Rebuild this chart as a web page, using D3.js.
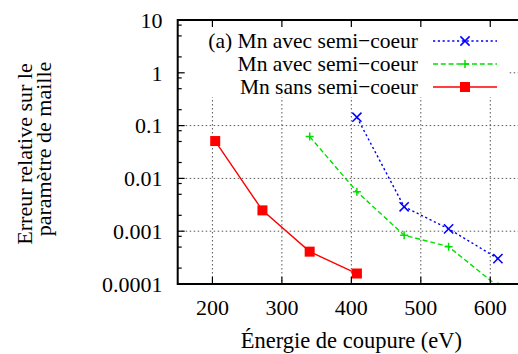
<!DOCTYPE html>
<html><head><meta charset="utf-8">
<script src="https://cdn.jsdelivr.net/npm/d3@7"></script>
<style>body{margin:0;background:#fff}svg{display:block}</style>
</head><body><svg id="c" width="518" height="354" font-family="'Liberation Serif', 'DejaVu Serif', serif"></svg>
<script>
const xTicks = [200, 300, 400, 500, 600];
const yTicks = [0.0001, 0.001, 0.01, 0.1, 1, 10];
const yTickLabels = ["0.0001", "0.001", "0.01", "0.1", "1", "10"];
const seriesNames = ["(a) Mn avec semi\u2212coeur", "Mn avec semi\u2212coeur", "Mn sans semi\u2212coeur"];
const blueX = [408, 476, 540, 611];
const blueY = [0.144, 0.0029, 0.00111, 0.000303];
const greenX = [340, 408, 476, 540, 611];
const greenY = [0.062, 0.0056, 0.00084, 0.00051, 0.00009];
const redX = [204, 272, 340, 408];
const redY = [0.051, 0.00248, 0.00041, 0.000158];
const xLabel = "\u00C9nergie de coupure (eV)";
const yLabel = ["Erreur relative sur le", "param\u00E8tre de maille"];

const svg = d3.select("#c");
const L = 177.7, R = 525, T = 20, B = 284;
const x = d3.scaleLinear().domain([150, 650]).range([L, R]);
const y = d3.scaleLog().domain([1e-4, 10]).range([B, T]);

svg.append("defs").append("clipPath").attr("id", "clip")
  .append("rect").attr("x", L).attr("y", T).attr("width", R - L).attr("height", B - T);

// grid
const grid = svg.append("g").attr("stroke", "#555").attr("stroke-width", 1).attr("stroke-dasharray", "1.5,2.5");
grid.selectAll(".gx").data(xTicks).join("line")
  .attr("x1", d => x(d)).attr("x2", d => x(d)).attr("y1", T).attr("y2", B);
grid.selectAll(".gy").data(yTicks.slice(1, 5)).join("line")
  .attr("x1", L).attr("x2", R).attr("y1", d => y(d)).attr("y2", d => y(d));

// legend background
svg.append("rect").attr("x", 182).attr("y", 24).attr("width", 326).attr("height", 73).attr("fill", "#fff");

const series = [
  {xs: blueX, ys: blueY, color: "#0000ff", dash: "2.2,2.6", marker: "x"},
  {xs: greenX, ys: greenY, color: "#00e000", dash: "5,2.8", marker: "plus"},
  {xs: redX, ys: redY, color: "#ff0000", dash: null, marker: "square"}
];

function drawMarker(g, m, cx, cy, color) {
  if (m === "x") {
    const s = 4.6;
    g.append("path").attr("d", `M${cx - s},${cy - s}L${cx + s},${cy + s}M${cx - s},${cy + s}L${cx + s},${cy - s}`)
      .attr("stroke", color).attr("stroke-width", 1.5).attr("fill", "none");
  } else if (m === "plus") {
    const s = 4;
    g.append("path").attr("d", `M${cx - s},${cy}L${cx + s},${cy}M${cx},${cy - s}L${cx},${cy + s}`)
      .attr("stroke", color).attr("stroke-width", 1.5).attr("fill", "none");
  } else {
    const s = 5;
    g.append("rect").attr("x", cx - s).attr("y", cy - s).attr("width", 2 * s).attr("height", 2 * s).attr("fill", color);
  }
}

const plot = svg.append("g").attr("clip-path", "url(#clip)");
series.forEach(s => {
  const pts = s.xs.map((v, i) => [v, s.ys[i]]);
  plot.append("path").datum(pts)
    .attr("d", d3.line().x(d => x(d[0])).y(d => y(d[1])))
    .attr("fill", "none").attr("stroke", s.color).attr("stroke-width", 1.4)
    .attr("stroke-dasharray", s.dash);
  pts.forEach(p => drawMarker(plot, s.marker, x(p[0]), y(p[1]), s.color));
});

// legend
const legY = [41, 64, 87];
series.forEach((s, i) => {
  const g = svg.append("g");
  g.append("text").attr("x", 418).attr("y", legY[i]).attr("dy", "0.33em")
    .attr("text-anchor", "end").attr("font-size", 21.5).text(seriesNames[i]);
  g.append("line").attr("x1", 433).attr("x2", 497).attr("y1", legY[i]).attr("y2", legY[i])
    .attr("stroke", s.color).attr("stroke-width", 1.4).attr("stroke-dasharray", s.dash);
  drawMarker(g, s.marker, 465, legY[i], s.color);
});

// ticks
const tk = svg.append("g").attr("stroke", "#000").attr("stroke-width", 1.2);
xTicks.forEach(v => {
  tk.append("line").attr("x1", x(v)).attr("x2", x(v)).attr("y1", B).attr("y2", B - 7);
  tk.append("line").attr("x1", x(v)).attr("x2", x(v)).attr("y1", T).attr("y2", T + 7);
});
yTicks.forEach(v => {
  tk.append("line").attr("x1", L).attr("x2", L + 7).attr("y1", y(v)).attr("y2", y(v));
});
const minor = [];
yTicks.slice(0, 5).forEach(v => [2, 5, 8].forEach(m => minor.push(v * m)));
minor.forEach(v => {
  tk.append("line").attr("x1", L).attr("x2", L + 4).attr("y1", y(v)).attr("y2", y(v));
});

// frame
svg.append("rect").attr("x", L).attr("y", T).attr("width", R - L).attr("height", B - T)
  .attr("fill", "none").attr("stroke", "#000").attr("stroke-width", 2);

// tick labels
svg.selectAll(".xl").data(xTicks).join("text")
  .attr("x", d => x(d)).attr("y", 307).attr("dy", "0.35em").attr("text-anchor", "middle")
  .attr("font-size", 22).text(d => d);
svg.selectAll(".yl").data(yTicks).join("text")
  .attr("x", 162.5).attr("y", d => y(d)).attr("dy", "0.35em").attr("text-anchor", "end")
  .attr("font-size", 22).text((d, i) => yTickLabels[i]);

// axis titles
svg.append("text").attr("x", (L + R) / 2).attr("y", 348).attr("text-anchor", "middle")
  .attr("font-size", 22.5).text(xLabel);
const yl = svg.append("text").attr("transform", "translate(0,152) rotate(-90)")
  .attr("text-anchor", "middle").attr("font-size", 22);
yl.append("tspan").attr("x", -2).attr("y", 31.5).text(yLabel[0]);
yl.append("tspan").attr("x", 3).attr("y", 51).text(yLabel[1]);
</script></body></html>
